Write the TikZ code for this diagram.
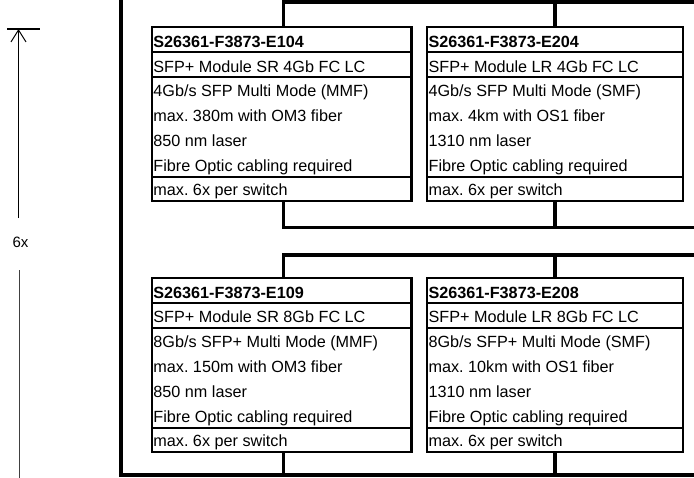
\documentclass[tikz,border=0pt]{standalone}
\usepackage{fontspec}
\setmainfont{Liberation Sans}
\usetikzlibrary{arrows.meta}
\frenchspacing
\newcommand\cardfont{\fontsize{16.2}{20}\selectfont}
\tikzset{
  cardbox/.style={draw, line width=2.2pt, minimum height=174pt, inner sep=0pt, outer sep=0pt},
  divider/.style={line width=1.6pt},
  cardtext/.style={anchor=base west, inner sep=0pt, font=\cardfont},
  cardhead/.style={cardtext, font=\cardfont\bfseries},
  bus/.style={line width=3.6pt},
  dimline/.style={line width=1pt},
}
\newcommand\sfpcard[9]{%
  \node[cardbox, minimum width=#4pt, anchor=north west] (#1) at (#2,#3) {};
  \draw[divider] ([yshift=-25pt]#1.north west) -- ([yshift=-25pt]#1.north east);
  \draw[divider] ([yshift=-50pt]#1.north west) -- ([yshift=-50pt]#1.north east);
  \draw[divider] ([yshift=-150pt]#1.north west) -- ([yshift=-150pt]#1.north east);
  \node[cardhead] (#1-l1) at ([xshift=1.4pt,yshift=-20.2pt]#1.north west) {#5};
  \node[cardtext] (#1-l2) at ([xshift=1.4pt,yshift=-45pt]#1.north west) {#6};
  \node[cardtext] (#1-l3) at ([xshift=1.4pt,yshift=-69.9pt]#1.north west) {#7};
  \node[cardtext] (#1-l4) at ([xshift=1.4pt,yshift=-94.8pt]#1.north west) {#8};
  \node[cardtext] (#1-l5) at ([xshift=1.4pt,yshift=-119.8pt]#1.north west) {#9};
  \node[cardtext] (#1-l6) at ([xshift=1.4pt,yshift=-144.8pt]#1.north west) {Fibre Optic cabling required};
  \node[cardtext] (#1-l7) at ([xshift=1.4pt,yshift=-168.9pt]#1.north west) {max. 6x per switch};
}
\begin{document}
\begin{tikzpicture}[x=1pt, y=-1pt]
  \useasboundingbox (0,0) rectangle (694,477);
  \clip (0,0) rectangle (694,477);
  \fill[white] (0,0) rectangle (694,477);

  % cards
  \sfpcard{e104}{151.8}{27}{259.6}{S26361-F3873-E104}{SFP+ Module SR 4Gb FC LC}{4Gb/s SFP Multi Mode (MMF)}{max. 380m with OM3 fiber}{850 nm laser}
  \sfpcard{e204}{427}{27}{256}{S26361-F3873-E204}{SFP+ Module LR 4Gb FC LC}{4Gb/s SFP Multi Mode (SMF)}{max. 4km with OS1 fiber}{1310 nm laser}
  \sfpcard{e109}{151.8}{277.8}{259.6}{S26361-F3873-E109}{SFP+ Module SR 8Gb FC LC}{8Gb/s SFP+ Multi Mode (MMF)}{max. 150m with OM3 fiber}{850 nm laser}
  \sfpcard{e208}{427}{277.8}{256}{S26361-F3873-E208}{SFP+ Module LR 8Gb FC LC}{8Gb/s SFP+ Multi Mode (SMF)}{max. 10km with OS1 fiber}{1310 nm laser}

  % bus coordinates
  \coordinate (busA) at (700,2);
  \coordinate (busB) at (700,227.3);
  \coordinate (busC) at (700,254.7);
  \coordinate (busD) at (700,475);
  \coordinate (stubTop) at (475,-6);
  \coordinate (stubBase) at (475,2);
  \coordinate (leftTop) at (121,-6);
  \coordinate (leftBottom) at (121,475);
  \coordinate (c104n) at ([xshift=2pt]e104.north);
  \coordinate (c104s) at ([xshift=2pt]e104.south);
  \coordinate (c109n) at ([xshift=2pt]e109.north);
  \coordinate (c109s) at ([xshift=2pt]e109.south);

  % connectors
  \draw[bus] (c104n) |- (busA);
  \draw[bus] (stubBase) -- (stubTop);
  \draw[bus] (e204.north) -- (e204.north |- busA);
  \draw[bus] (c104s) |- (busB);
  \draw[bus] (e204.south) -- (e204.south |- busB);
  \draw[bus] (c109n) |- (busC);
  \draw[bus] (e208.north) -- (e208.north |- busC);
  \draw[bus] (leftTop) -- (leftBottom) -- (busD);
  \draw[bus] (c109s) -- (c109s |- busD);
  \draw[bus] (e208.south) -- (e208.south |- busD);

  % dimension arrow
  \coordinate (tickL) at (7,29);
  \coordinate (tickR) at (40,29);
  \coordinate (arrTip) at (18.5,29);
  \coordinate (arrBase) at (18.5,218);
  \coordinate (lowTop) at (19,270);
  \coordinate (lowBottom) at (19,480);
  \draw[line width=1.3pt] (tickL) -- (tickR);
  \draw[dimline, -{Straight Barb[length=12pt,width=15pt]}] (arrBase) -- (arrTip);
  \node[font=\fontsize{15}{18}\selectfont, inner sep=0pt] (six) at (20.5,242.5) {6x};
  \draw[dimline, black!75] (lowTop) -- (lowBottom);
\end{tikzpicture}
\end{document}
